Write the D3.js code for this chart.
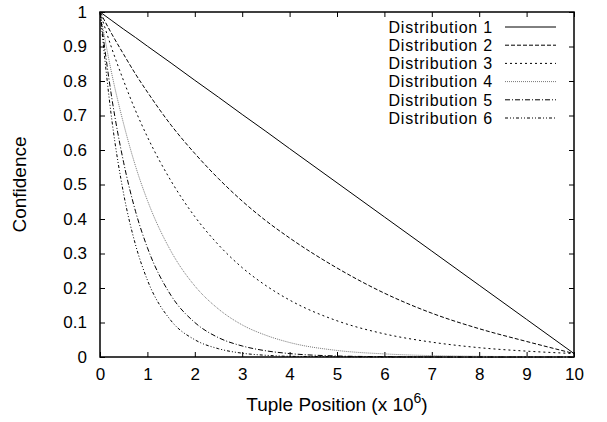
<!DOCTYPE html>
<html>
<head>
<meta charset="utf-8">
<script src="https://cdn.jsdelivr.net/npm/d3@7"></script>
<style>
  body { margin: 0; background: #fff; }
  svg text { font-family: "Liberation Sans", Arial, Helvetica, sans-serif; fill: #000; }
</style>
</head>
<body>
<div id="chart"></div>
<script>
// sample positions (x 10^6) shared by all series
var xs = [0, 0.25, 0.5, 0.75, 1, 1.5, 2, 2.5, 3, 3.5, 4, 5, 6, 7, 8, 9, 10]

var dist1 = [1, 0.975, 0.95, 0.926, 0.901, 0.852, 0.802, 0.753, 0.703, 0.654, 0.604, 0.505, 0.406, 0.307, 0.208, 0.109, 0.01]
var dist2 = [1, 0.936, 0.877, 0.82, 0.768, 0.672, 0.59, 0.517, 0.452, 0.395, 0.345, 0.258, 0.185, 0.127, 0.082, 0.045, 0.01]
var dist3 = [1, 0.894, 0.80, 0.714, 0.638, 0.51, 0.407, 0.325, 0.259, 0.207, 0.165, 0.105, 0.067, 0.043, 0.027, 0.017, 0.01]
var dist4 = [1, 0.82, 0.675, 0.553, 0.454, 0.306, 0.206, 0.139, 0.093, 0.063, 0.042, 0.019, 0.009, 0.004, 0.002, 0.001, 0]
var dist5 = [1, 0.75, 0.563, 0.422, 0.317, 0.178, 0.10, 0.056, 0.032, 0.018, 0.01, 0.003, 0.001, 0, 0, 0, 0]
var dist6 = [1, 0.687, 0.472, 0.325, 0.223, 0.105, 0.05, 0.024, 0.011, 0.005, 0.002, 0.001, 0, 0, 0, 0, 0]

var names = ["Distribution 1", "Distribution 2", "Distribution 3", "Distribution 4", "Distribution 5", "Distribution 6"]
var allSeries = [dist1, dist2, dist3, dist4, dist5, dist6]

var xTicks = [0, 1, 2, 3, 4, 5, 6, 7, 8, 9, 10]
var yTicks = [0, 0.1, 0.2, 0.3, 0.4, 0.5, 0.6, 0.7, 0.8, 0.9, 1]

// line looks per series (gnuplot style dashes)
var dashes = ["none", "4,2", "2,3", "1,1", "5,2,1,2", "3,2,1,2,1,2"]
var strokes = ["#000", "#000", "#000", "#777", "#000", "#000"]

var W = 607, H = 422
var margin = {top: 12, right: 33, bottom: 65, left: 100}
var plotW = W - margin.left - margin.right,
    plotH = H - margin.top - margin.bottom

var svg = d3.select("#chart").append("svg")
    .attr("width", W)
    .attr("height", H)

var g = svg.append("g").attr("transform", "translate(" + margin.left + "," + margin.top + ")")

var x = d3.scaleLinear().domain([0, 10]).range([0, plotW])
var y = d3.scaleLinear().domain([0, 1]).range([plotH, 0])

var fmt = function(d){ return d3.format("")(+d.toFixed(1)) }

// bottom axis + mirrored top ticks
g.append("g").attr("transform", "translate(0," + plotH + ")")
    .call(d3.axisTop(x).tickValues(xTicks).tickSize(5).tickFormat(""))
g.append("g").attr("transform", "translate(0," + plotH + ")")
    .call(d3.axisBottom(x).tickValues(xTicks).tickSize(0).tickPadding(11).tickFormat(fmt))
g.append("g")
    .call(d3.axisBottom(x).tickValues(xTicks).tickSize(5).tickFormat(""))

// left axis + mirrored right ticks
g.append("g")
    .call(d3.axisRight(y).tickValues(yTicks).tickSize(5).tickFormat(""))
g.append("g")
    .call(d3.axisLeft(y).tickValues(yTicks).tickSize(0).tickPadding(13).tickFormat(fmt))
g.append("g").attr("transform", "translate(" + plotW + ",0)")
    .call(d3.axisLeft(y).tickValues(yTicks).tickSize(5).tickFormat(""))

g.selectAll(".domain").remove()
g.selectAll(".tick line").attr("stroke", "#000").attr("stroke-width", 1)
g.selectAll(".tick text").style("font-size", "17px").style("font-family", "Liberation Sans, Arial, sans-serif")

// frame
g.append("rect")
    .attr("width", plotW).attr("height", plotH)
    .attr("fill", "none").attr("stroke", "#000").attr("stroke-width", 1.5)

var line = d3.line()
    .x(function(d){ return x(d[0]) })
    .y(function(d){ return y(d[1]) })
    .curve(d3.curveMonotoneX)

allSeries.forEach(function(vals, i){
    var pts = xs.map(function(v, j){ return [v, vals[j]] })
    g.append("path")
        .attr("d", line(pts))
        .attr("fill", "none")
        .attr("stroke", strokes[i])
        .attr("stroke-width", 1)
        .attr("stroke-dasharray", dashes[i])
})

// legend
var legend = g.append("g").attr("transform", "translate(" + (plotW - 81) + ",15)")
names.forEach(function(n, i){
    var row = legend.append("g").attr("transform", "translate(0," + (i * 18.2) + ")")
    row.append("text")
        .attr("x", 0).attr("y", 0).attr("dy", "0.36em")
        .attr("text-anchor", "end")
        .style("font-size", "16px")
        .style("letter-spacing", "0.8px")
        .text(n)
    row.append("line")
        .attr("x1", 12).attr("x2", 63)
        .attr("y1", 0).attr("y2", 0)
        .attr("stroke", strokes[i])
        .attr("stroke-width", 1)
        .attr("stroke-dasharray", dashes[i])
})

// axis titles
var xt = svg.append("text")
    .attr("x", margin.left + plotW / 2)
    .attr("y", 411)
    .attr("text-anchor", "middle")
    .style("font-size", "19px")
xt.append("tspan").text("Tuple Position (x 10")
xt.append("tspan").attr("dy", -8).style("font-size", "14px").text("6")
xt.append("tspan").attr("dy", 8).text(")")

svg.append("text")
    .attr("transform", "translate(26," + (margin.top + plotH / 2) + ") rotate(-90)")
    .attr("text-anchor", "middle")
    .style("font-size", "19px")
    .text("Confidence")
</script>
</body>
</html>
